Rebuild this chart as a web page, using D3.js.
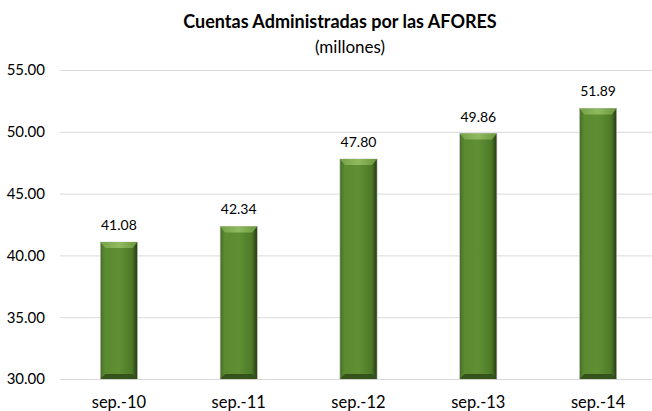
<!DOCTYPE html>
<html lang="es">
<head>
<meta charset="UTF-8"/>
<title>Cuentas Administradas por las AFORES</title>
<script src="https://d3js.org/d3.v7.min.js"></script>
<style>
body { margin: 0; background: #fff; overflow: hidden; }
svg { display: block; font-family: Lato, "Open Sans", sans-serif; }
text { fill: #000; }
.grid line { stroke: #d9d9d9; stroke-width: 1; }
.grid path { stroke-width: 0; }
.axis path, .axis line { display: none; }
.axis text { font-family: Lato, "Open Sans", sans-serif; fill: #000; }
.yaxis text { font-size: 15px; }
.xaxis text { font-size: 16.5px; }
text.title { font-size: 18px; font-weight: 700; }
text.subtitle { font-size: 17px; }
text.value { font-size: 14px; }
</style>
</head>
<body>
<svg width="652" height="411"></svg>
<script>
const categories = ['sep.-10', 'sep.-11', 'sep.-12', 'sep.-13', 'sep.-14'];
const values = [41.08, 42.34, 47.80, 49.86, 51.89];
const yTicks = [30, 35, 40, 45, 50, 55];

const data = categories.map((c, i) => ({ keyword: c, value: values[i] }));

const svg = d3.select('svg');
const plotLeft = 60, plotRight = 652, plotTop = 70, plotBottom = 379;

// category bands run a little past the right edge like the original
const xScale = d3.scaleBand()
  .range([59, 658])
  .domain(categories)
  .paddingInner(0.69)
  .paddingOuter(0.345);

const yScale = d3.scaleLinear()
  .range([plotBottom, plotTop])
  .domain([30, 55]);

// gradient for the bevelled bars
const defs = svg.append('defs');
const side = defs.append('linearGradient').attr('id', 'barSide')
  .attr('x1', 0).attr('x2', 1).attr('y1', 0).attr('y2', 0);
side.append('stop').attr('offset', '0%').attr('stop-color', '#456d24');
side.append('stop').attr('offset', '12%').attr('stop-color', '#5b8a30');
side.append('stop').attr('offset', '50%').attr('stop-color', '#5f8f33');
side.append('stop').attr('offset', '85%').attr('stop-color', '#4e7a28');
side.append('stop').attr('offset', '100%').attr('stop-color', '#24390f');

const topBev = defs.append('linearGradient').attr('id', 'barTop')
  .attr('x1', 0).attr('x2', 1).attr('y1', 0).attr('y2', 0);
topBev.append('stop').attr('offset', '0%').attr('stop-color', '#76a148');
topBev.append('stop').attr('offset', '50%').attr('stop-color', '#8fba5e');
topBev.append('stop').attr('offset', '100%').attr('stop-color', '#6a963d');

// horizontal grid
svg.append('g')
  .attr('class', 'grid')
  .attr('transform', `translate(${plotLeft},0)`)
  .call(d3.axisLeft(yScale).tickValues(yTicks).tickSize(-(plotRight - plotLeft)).tickFormat(''));

// y labels
svg.append('g')
  .attr('class', 'axis yaxis')
  .attr('transform', `translate(${plotLeft},0)`)
  .call(d3.axisLeft(yScale).tickValues(yTicks).tickSize(0).tickPadding(15).tickFormat(d3.format('.2f')));

// x labels
svg.append('g')
  .attr('class', 'axis xaxis')
  .attr('transform', `translate(0,${plotBottom})`)
  .call(d3.axisBottom(xScale).tickSize(0).tickPadding(17));

const bars = svg.selectAll('.barg')
  .data(data)
  .enter()
  .append('g')
  .attr('class', 'barg');

const bw = xScale.bandwidth();
const bev = 5;

bars.append('rect')
  .attr('x', d => xScale(d.keyword))
  .attr('y', d => yScale(d.value))
  .attr('width', bw)
  .attr('height', d => plotBottom - yScale(d.value))
  .attr('fill', 'url(#barSide)')
  .attr('stroke', '#bfbfbf')
  .attr('stroke-width', 0.6);

// top bevel
bars.append('path')
  .attr('d', d => {
    const x0 = xScale(d.keyword), y0 = yScale(d.value);
    return `M${x0},${y0} L${x0 + bw},${y0} L${x0 + bw - bev},${y0 + bev + 1} L${x0 + bev},${y0 + bev + 1} Z`;
  })
  .attr('fill', 'url(#barTop)');

// bottom bevel
bars.append('path')
  .attr('d', d => {
    const x0 = xScale(d.keyword);
    return `M${x0},${plotBottom} L${x0 + bw},${plotBottom} L${x0 + bw - bev},${plotBottom - bev} L${x0 + bev},${plotBottom - bev} Z`;
  })
  .attr('fill', '#34531a');

bars.append('text')
  .attr('class', 'value')
  .attr('x', d => xScale(d.keyword) + bw / 2)
  .attr('y', d => yScale(d.value) - 12)
  .attr('text-anchor', 'middle')
  .text(d => d.value.toFixed(2));

svg.append('text')
  .attr('class', 'title')
  .attr('x', 340)
  .attr('y', 28)
  .attr('text-anchor', 'middle')
  .text('Cuentas Administradas por las AFORES');

svg.append('text')
  .attr('class', 'subtitle')
  .attr('x', 350)
  .attr('y', 53)
  .attr('text-anchor', 'middle')
  .text('(millones)');
</script>
</body>
</html>
